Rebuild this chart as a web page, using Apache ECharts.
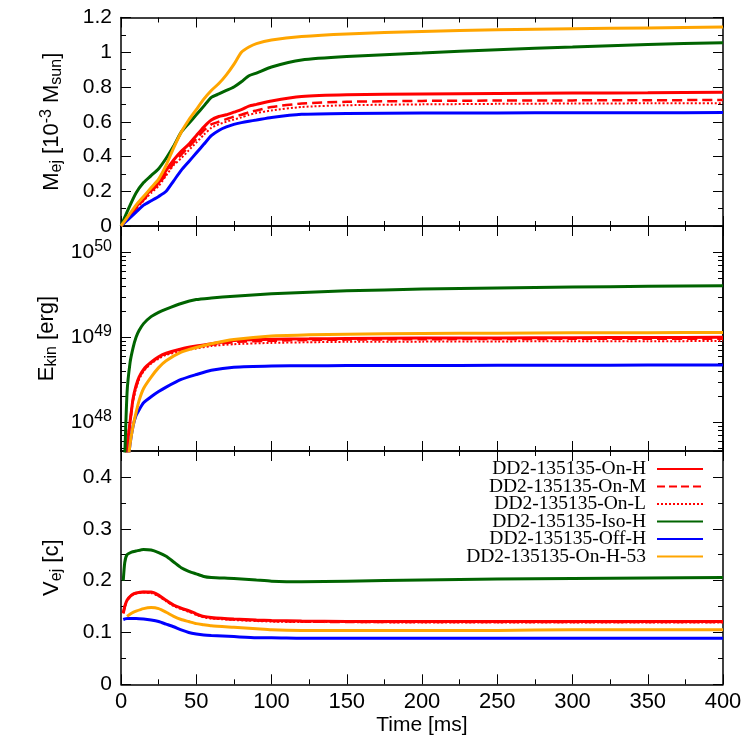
<!DOCTYPE html>
<html>
<head>
<meta charset="utf-8">
<script src="https://cdn.jsdelivr.net/npm/echarts@6/dist/echarts.min.js"></script>
<style>
html,body{margin:0;padding:0;background:#fff}
#main{width:750px;height:750px}
</style>
</head>
<body>
<div id="main"></div>
<script>
var names = ['DD2-135135-On-H', 'DD2-135135-On-M', 'DD2-135135-On-L', 'DD2-135135-Iso-H', 'DD2-135135-Off-H', 'DD2-135135-On-H-53'];
var colors = ['#ff0000', '#ff0000', '#ff0000', '#006400', '#0000ff', '#ffa500'];
var lineTypes = ['solid', 'dashed', 'dotted', 'solid', 'solid', 'solid'];
var lineWidths = [3, 2.5, 2, 3, 3, 3];

// ejecta mass [1e-3 Msun]
var timeM = [0,5,10,15,20,25,30,35,40,45,50,55,60,65,70,75,80,85,90,100,120,150,200,250,300,350,400];
var massOnH = [0,0.055,0.11,0.16,0.21,0.25,0.32,0.38,0.43,0.47,0.52,0.57,0.61,0.63,0.64,0.655,0.67,0.69,0.70,0.72,0.745,0.755,0.76,0.763,0.765,0.767,0.77];
var massOnM = [0,0.052,0.10,0.15,0.20,0.24,0.30,0.36,0.41,0.455,0.50,0.55,0.585,0.60,0.615,0.63,0.64,0.655,0.665,0.685,0.705,0.715,0.72,0.722,0.723,0.724,0.725];
var massOnL = [0,0.05,0.10,0.145,0.19,0.23,0.29,0.35,0.39,0.435,0.48,0.525,0.565,0.585,0.60,0.613,0.625,0.64,0.65,0.665,0.685,0.695,0.70,0.703,0.705,0.706,0.707];
var massIso = [0,0.10,0.19,0.25,0.29,0.33,0.39,0.46,0.54,0.59,0.64,0.69,0.74,0.76,0.78,0.80,0.83,0.865,0.88,0.915,0.955,0.975,0.995,1.015,1.03,1.045,1.055];
var massOff = [0,0.04,0.08,0.12,0.145,0.17,0.20,0.26,0.32,0.37,0.42,0.47,0.52,0.55,0.57,0.585,0.595,0.603,0.61,0.625,0.643,0.648,0.65,0.651,0.652,0.652,0.653];
var massOn53 = [0,0.06,0.12,0.17,0.22,0.27,0.35,0.45,0.54,0.61,0.67,0.73,0.78,0.82,0.87,0.93,1.00,1.03,1.05,1.07,1.09,1.105,1.12,1.13,1.135,1.14,1.145];

// kinetic energy [erg]
var timeE = [2,4,6,8,10,12,15,20,25,30,40,50,60,75,100,125,150,200,250,300,350,400];
var ekinOnH = [1e47,5e47,1e48,1.9e48,2.7e48,3.4e48,4.2e48,5.1e48,5.9e48,6.5e48,7.3e48,7.9e48,8.4e48,9.2e48,9.5e48,9.6e48,9.7e48,9.8e48,9.85e48,9.9e48,9.95e48,1.0e49];
var ekinOnM = [1e47,5e47,1e48,1.85e48,2.6e48,3.3e48,4.1e48,5e48,5.8e48,6.4e48,7.2e48,7.7e48,8.2e48,8.8e48,9.1e48,9.3e48,9.4e48,9.5e48,9.55e48,9.6e48,9.6e48,9.65e48];
var ekinOnL = [1e47,5e47,9.5e47,1.8e48,2.5e48,3.2e48,4e48,4.9e48,5.6e48,6.2e48,6.9e48,7.4e48,7.9e48,8.3e48,8.6e48,8.75e48,8.85e48,8.9e48,8.95e48,9e48,9e48,9.05e48];
var ekinIso = [2e47,2.2e48,5e48,7.5e48,1e49,1.2e49,1.45e49,1.75e49,1.97e49,2.15e49,2.5e49,2.78e49,2.9e49,3.05e49,3.25e49,3.4e49,3.52e49,3.7e49,3.8e49,3.9e49,3.98e49,4.05e49];
var ekinOff = [5e46,2.5e47,5.5e47,9e47,1.2e48,1.4e48,1.7e48,2e48,2.3e48,2.6e48,3.2e48,3.65e48,4.1e48,4.45e48,4.6e48,4.63e48,4.65e48,4.67e48,4.68e48,4.7e48,4.71e48,4.72e48];
var ekinOn53 = [5e46,2.5e47,5.5e47,9e47,1.3e48,1.8e48,2.5e48,3.4e48,4.4e48,5.3e48,6.7e48,7.6e48,8.4e48,9.4e48,1.04e49,1.07e49,1.09e49,1.11e49,1.12e49,1.13e49,1.135e49,1.14e49];

// velocity [c]
var timeV = [1.5,2.5,4,7,10,15,20,25,30,35,40,45,50,55,60,75,90,100,120,150,200,250,300,350,400];
var velOnH = [0.137,0.150,0.162,0.172,0.176,0.178,0.178,0.172,0.162,0.153,0.147,0.142,0.136,0.131,0.129,0.126,0.124,0.123,0.122,0.121,0.121,0.121,0.121,0.121,0.121];
var velOnM = [0.137,0.150,0.162,0.172,0.176,0.178,0.177,0.171,0.161,0.152,0.146,0.141,0.135,0.130,0.128,0.125,0.123,0.122,0.121,0.120,0.120,0.120,0.120,0.120,0.120];
var velOnL = [0.137,0.150,0.161,0.171,0.175,0.177,0.176,0.170,0.160,0.151,0.145,0.140,0.134,0.129,0.127,0.124,0.122,0.121,0.120,0.120,0.119,0.119,0.119,0.119,0.119];
var velIso = [0.200,0.235,0.250,0.255,0.257,0.260,0.259,0.254,0.247,0.236,0.225,0.218,0.213,0.208,0.206,0.204,0.201,0.199,0.198,0.199,0.201,0.203,0.204,0.205,0.206];
var velOff = [0.125,0.126,0.127,0.127,0.127,0.126,0.124,0.121,0.116,0.111,0.105,0.100,0.097,0.095,0.094,0.092,0.090,0.090,0.089,0.089,0.089,0.089,0.089,0.089,0.089];
var velOn53 = [null,null,0.131,0.137,0.141,0.146,0.148,0.146,0.139,0.131,0.125,0.121,0.117,0.115,0.113,0.110,0.107,0.105,0.104,0.104,0.104,0.104,0.105,0.105,0.105];

// log axis ticks
var majorE = [1e48, 1e49, 1e50];
var minorE = [5e47,6e47,7e47,8e47,9e47,2e48,3e48,4e48,5e48,6e48,7e48,8e48,9e48,2e49,3e49,4e49,5e49,6e49,7e49,8e49,9e49,2e50];

var massAll = [massOnH, massOnM, massOnL, massIso, massOff, massOn53];
var ekinAll = [ekinOnH, ekinOnM, ekinOnL, ekinIso, ekinOff, ekinOn53];
var velAll = [velOnH, velOnM, velOnL, velIso, velOff, velOn53];

var font = 'Liberation Sans';
var black = '#000';

function pairs(t, v) {
    var out = [];
    for (var i = 0; i < t.length; i++) out.push([t[i], v[i]]);
    return out;
}

function xAx(grid, pos, labels) {
    return {
        type: 'value', gridIndex: grid, position: pos, min: 0, max: 400, interval: 50,
        axisLine: {show: true, onZero: false, lineStyle: {color: black, width: 1.5}},
        axisTick: {show: true, inside: true, length: 10, lineStyle: {color: black, width: 1}},
        minorTick: {show: true, splitNumber: 2, length: 5, lineStyle: {color: black, width: 1}},
        axisLabel: {show: labels, color: black, fontSize: 22, fontFamily: font, margin: 7},
        splitLine: {show: false}, minorSplitLine: {show: false}
    };
}

var nameStyle = {
    color: black, fontSize: 22, fontFamily: font, lineHeight: 26,
    rich: {
        sub: {fontSize: 16, fontFamily: font, color: black, lineHeight: 14, verticalAlign: 'bottom'},
        sup: {fontSize: 16, fontFamily: font, color: black, lineHeight: 14, verticalAlign: 'top'}
    }
};

function yAx(grid, pos, max, interval, labels, name) {
    return {
        type: 'value', gridIndex: grid, position: pos, min: 0, max: max, interval: interval,
        name: name, nameLocation: 'middle', nameGap: 56, nameTextStyle: nameStyle,
        axisLine: {show: true, onZero: false, lineStyle: {color: black, width: 1.5}},
        axisTick: {show: true, inside: true, length: 10, lineStyle: {color: black, width: 1}},
        minorTick: {show: true, splitNumber: 2, length: 5, lineStyle: {color: black, width: 1}},
        axisLabel: {show: labels, showMaxLabel: max === 1.2 ? true : false, color: black, fontSize: 21, fontFamily: font, margin: 9},
        splitLine: {show: false}, minorSplitLine: {show: false}
    };
}

function logAx(pos, ticks, len, labels, name) {
    return {
        type: 'log', logBase: 10, gridIndex: 1, position: pos, min: 4.6e47, max: 2.04e50,
        name: name, nameLocation: 'middle', nameGap: 56, nameTextStyle: nameStyle,
        axisLine: {show: true, onZero: false, lineStyle: {color: black, width: 1.5}},
        axisTick: {show: true, inside: true, length: len, customValues: ticks, lineStyle: {color: black, width: 1}},
        minorTick: {show: false},
        axisLabel: {
            show: labels, customValues: majorE, color: black, fontSize: 21, fontFamily: font, margin: 9, lineHeight: 28,
            formatter: function (v) { return '10{sup|' + Math.round(Math.log10(v)) + '}'; },
            rich: {sup: {fontSize: 16, fontFamily: font, color: black, lineHeight: 14, verticalAlign: 'top'}}
        },
        splitLine: {show: false}, minorSplitLine: {show: false}
    };
}

var series = [];
for (var k = 0; k < names.length; k++) {
    var ls = {color: colors[k], width: lineWidths[k], type: lineTypes[k]};
    var base = {type: 'line', name: names[k], symbol: 'none', smooth: 0.2, color: colors[k], lineStyle: ls, clip: true};
    series.push(Object.assign({}, base, {xAxisIndex: 0, yAxisIndex: 0, data: pairs(timeM, massAll[k])}));
    series.push(Object.assign({}, base, {xAxisIndex: 2, yAxisIndex: 2, data: pairs(timeE, ekinAll[k])}));
    series.push(Object.assign({}, base, {xAxisIndex: 4, yAxisIndex: 6, data: pairs(timeV, velAll[k])}));
}

var chart = echarts.init(document.getElementById('main'));
var option = {
    backgroundColor: '#fff',
    animation: false,
    grid: [
        {left: 121, right: 27, top: 17.5, height: 208.5, outerBoundsMode: 'none'},
        {left: 121, right: 27, top: 226, height: 225, outerBoundsMode: 'none'},
        {left: 121, right: 27, top: 451, height: 233.3, outerBoundsMode: 'none'}
    ],
    legend: {
        data: names, orient: 'vertical', align: 'right', right: 46, top: 459, padding: 0,
        itemWidth: 46, itemHeight: 12, itemGap: -2.5, selectedMode: false,
        itemStyle: {opacity: 0, borderWidth: 0},
        textStyle: {fontFamily: 'Liberation Serif', fontSize: 19.5, color: black, padding: [0, 6, 0, 0]}
    },
    xAxis: [
        xAx(0, 'bottom', false), xAx(0, 'top', false),
        xAx(1, 'bottom', false), xAx(1, 'top', false),
        Object.assign(xAx(2, 'bottom', true), {name: 'Time [ms]', nameLocation: 'middle', nameGap: 30,
            nameTextStyle: {color: black, fontSize: 21, fontFamily: font}}),
        xAx(2, 'top', false)
    ],
    yAxis: [
        yAx(0, 'left', 1.2, 0.2, true, 'M{sub|ej} [10{sup|-3} M{sub|sun}]'),
        yAx(0, 'right', 1.2, 0.2, false, ''),
        logAx('left', majorE, 10, true, 'E{sub|kin} [erg]'),
        logAx('right', majorE, 10, false, ''),
        logAx('left', minorE, 5, false, ''),
        logAx('right', minorE, 5, false, ''),
        yAx(2, 'left', 0.45, 0.1, true, 'V{sub|ej} [c]'),
        yAx(2, 'right', 0.45, 0.1, false, '')
    ],
    series: series
};
chart.setOption(option);
</script>
</body>
</html>
